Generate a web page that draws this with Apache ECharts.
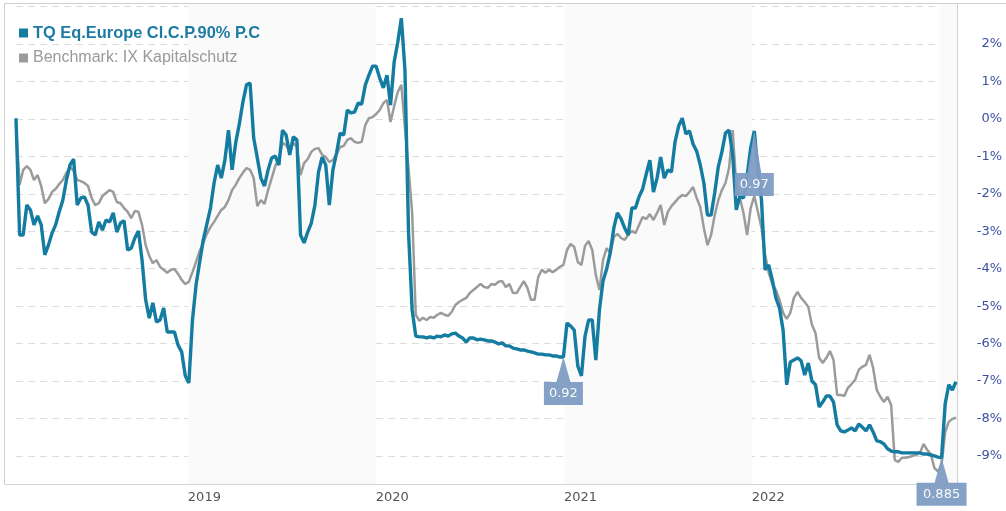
<!DOCTYPE html>
<html>
<head>
<meta charset="utf-8">
<script src="https://cdn.jsdelivr.net/npm/echarts@6/dist/echarts.min.js"></script>
<style>html,body{margin:0;padding:0;background:#fff}#c{width:1006px;height:511px}</style>
</head>
<body>
<div id="c"></div>
<script>
// weekly observations, first week starting 2018-02-01
const startYear = 2018, startMonth = 1, startDay = 1, stepDays = 7;
const seriesNames = ['TQ Eq.Europe Cl.C.P.90% P.C', 'Benchmark: IX Kapitalschutz'];
const tq = [
0.02,-3.10,-3.10,-2.30,-2.43,-2.83,-2.59,-2.83,-3.63,-3.37,-3.05,-2.83,-2.48,-2.17,-1.63,-1.23,-1.07,-2.30,-2.11,-2.08,
-2.30,-3.02,-3.10,-2.75,-2.97,-2.70,-2.75,-2.51,-3.02,-2.78,-2.72,-3.50,-3.45,-3.18,-2.99,-3.77,-4.83,-5.32,-4.91,-5.42,
-5.37,-5.05,-5.69,-5.69,-5.69,-6.04,-6.22,-6.86,-7.05,-5.37,-4.43,-3.82,-3.23,-2.81,-2.38,-1.71,-1.23,-1.58,-1.10,-0.30,
-1.36,-0.64,-0.14,0.45,0.91,0.96,-0.51,-1.04,-1.58,-1.79,-1.36,-1.04,-0.99,-1.23,-0.30,-0.43,-0.96,-0.48,-0.56,-3.10,
-3.31,-3.02,-2.78,-2.30,-1.42,-1.02,-1.23,-2.30,-1.36,-0.91,-0.38,-0.43,0.24,0.16,0.18,0.42,0.40,0.91,1.17,1.41,
1.41,1.09,0.83,1.17,0.37,1.52,2.05,2.69,1.31,-3.05,-5.10,-5.80,-5.82,-5.82,-5.85,-5.82,-5.85,-5.80,-5.82,-5.77,
-5.80,-5.74,-5.72,-5.80,-5.85,-5.96,-5.85,-5.85,-5.90,-5.88,-5.90,-5.93,-5.93,-5.96,-6.01,-5.98,-6.06,-6.06,-6.12,-6.14,
-6.17,-6.17,-6.20,-6.22,-6.25,-6.28,-6.28,-6.30,-6.30,-6.33,-6.33,-6.36,-6.36,-5.45,-5.53,-5.64,-6.60,-6.86,-5.80,-5.37,
-5.37,-6.44,-5.10,-4.33,-4.01,-3.58,-2.91,-2.51,-2.67,-2.91,-3.10,-2.38,-2.38,-2.08,-1.87,-1.47,-1.10,-1.95,-1.58,-1.02,
-1.58,-1.36,-1.42,-0.61,-0.19,0.02,-0.40,-0.32,-0.67,-0.86,-1.23,-1.71,-2.57,-2.57,-1.98,-1.28,-0.88,-0.38,-0.30,-0.96,
-2.43,-2.06,-2.11,-1.52,-0.78,-0.32,-1.36,-2.17,-4.03,-3.90,-4.30,-4.78,-5.05,-5.64,-7.10,-6.49,-6.44,-6.38,-6.46,-6.84,
-6.52,-7.00,-7.10,-7.69,-7.56,-7.40,-7.40,-7.56,-8.17,-8.33,-8.36,-8.31,-8.25,-8.33,-8.15,-8.23,-8.33,-8.17,-8.36,-8.60,
-8.62,-8.68,-8.81,-8.87,-8.89,-8.89,-8.92,-8.92,-8.92,-8.92,-8.92,-8.92,-8.95,-8.95,-8.97,-9.00,-9.03,-9.05,-7.61,-7.10,
-7.24,-7.02
];
const bench = [
-0.11,-1.76,-1.36,-1.26,-1.36,-1.63,-1.50,-1.79,-2.25,-2.14,-1.95,-1.87,-1.74,-1.63,-1.44,-1.28,-1.39,-1.63,-1.66,-1.71,
-1.79,-2.11,-2.30,-2.25,-2.06,-1.98,-1.90,-1.95,-2.22,-2.25,-2.38,-2.48,-2.65,-2.46,-2.48,-2.83,-3.37,-3.66,-3.85,-3.77,
-3.95,-4.03,-4.11,-4.03,-4.01,-4.14,-4.30,-4.41,-4.35,-4.09,-3.82,-3.53,-3.31,-3.07,-2.89,-2.75,-2.59,-2.43,-2.35,-2.17,
-1.90,-1.76,-1.58,-1.44,-1.31,-1.36,-1.58,-2.33,-2.17,-2.27,-1.90,-1.58,-1.26,-1.04,-0.64,-0.70,-0.88,-0.64,-0.75,-1.50,
-1.18,-1.07,-0.88,-0.80,-0.78,-0.96,-1.02,-1.15,-1.10,-0.94,-0.75,-0.72,-0.56,-0.51,-0.61,-0.64,-0.61,-0.16,0.02,0.05,
0.13,0.24,0.42,0.51,-0.08,0.34,0.72,0.91,-0.24,-1.31,-2.51,-5.23,-5.39,-5.31,-5.37,-5.29,-5.31,-5.23,-5.18,-5.23,
-5.26,-5.15,-4.97,-4.89,-4.83,-4.78,-4.65,-4.57,-4.49,-4.41,-4.49,-4.51,-4.41,-4.43,-4.35,-4.33,-4.49,-4.41,-4.65,-4.65,
-4.49,-4.33,-4.51,-4.83,-4.83,-4.22,-4.03,-4.11,-4.03,-4.09,-4.03,-3.95,-3.90,-3.50,-3.34,-3.42,-3.82,-3.90,-3.39,-3.26,
-3.50,-4.17,-4.57,-3.77,-3.45,-3.58,-3.15,-3.07,-3.18,-3.23,-3.10,-2.99,-3.05,-2.83,-2.62,-2.67,-2.54,-2.70,-2.51,-2.30,
-2.83,-2.48,-2.33,-2.22,-2.11,-2.03,-2.06,-1.95,-1.82,-2.11,-2.35,-2.91,-3.37,-3.10,-2.57,-2.17,-1.90,-1.71,-1.31,-0.30,
-1.82,-2.11,-2.51,-3.10,-2.38,-2.06,-2.48,-2.91,-3.63,-4.11,-4.41,-4.57,-4.83,-5.18,-5.34,-5.18,-4.78,-4.62,-4.78,-4.89,
-5.02,-5.50,-5.72,-6.38,-6.52,-6.38,-6.20,-6.44,-7.37,-7.37,-7.40,-7.18,-7.08,-6.97,-6.70,-6.62,-6.57,-6.30,-6.65,-7.24,
-7.42,-7.56,-7.42,-7.64,-9.11,-9.16,-9.05,-9.05,-9.03,-9.00,-8.97,-8.92,-8.68,-8.84,-8.95,-9.32,-9.42,-9.24,-8.36,-8.09,
-8.01,-7.98
];
const yearLabels = ['2019', '2020', '2021', '2022'];
const shadedYears = ['2019', '2021', '2023'];
const yTicks = [-9, -8, -7, -6, -5, -4, -3, -2, -1, 0, 1, 2, 3];
const yLabels = [-9, -8, -7, -6, -5, -4, -3, -2, -1, 0, 1, 2];
const flagIndex = [152, 205, 257];
const flagText = ['0.92', '0.97', '0.885'];

const dates = tq.map((_, i) => new Date(startYear, startMonth, startDay + i * stepDays).getTime());
const lastDate = new Date(startYear, startMonth, startDay + (tq.length - 1) * stepDays + 2).getTime();
const yearStart = y => new Date(+y, 0, 1).getTime();

const blue = '#147ba1', grey = '#9b9b9b', flagCol = '#7e9cc3';

function flag(i, text, tri, w) {
  const h = 23, tw = 7;
  const c = w / 2;
  const path = 'path://M' + c + ' 0L' + (c + tw) + ' ' + tri + 'L' + w + ' ' + tri + 'L' + w + ' ' + (tri + h) +
    'L0 ' + (tri + h) + 'L0 ' + tri + 'L' + (c - tw) + ' ' + tri + 'Z';
  return {
    coord: [dates[i], tq[i]], value: text, symbol: path, symbolSize: [w, tri + h],
    symbolOffset: [0, (tri + h) / 2], symbolKeepAspect: false,
    itemStyle: {color: flagCol, opacity: 0.95},
    label: {show: true, position: 'inside', offset: [0, tri / 2], formatter: text, color: '#fff',
      fontFamily: 'DejaVu Sans', fontSize: 13}
  };
}

const chart = echarts.init(document.getElementById('c'), null, {renderer: 'canvas'});
chart.setOption({
  animation: false,
  backgroundColor: '#fff',
  grid: {left: 16, right: 49, top: 4, bottom: 27},
  graphic: [
    {type: 'line', shape: {x1: 4.5, y1: 4, x2: 4.5, y2: 484}, style: {stroke: '#d0d0d0', lineWidth: 1}, silent: true},
    {type: 'line', shape: {x1: 4, y1: 3.5, x2: 1006, y2: 3.5}, style: {stroke: '#d0d0d0', lineWidth: 1}, silent: true},
    {type: 'line', shape: {x1: 4, y1: 484.5, x2: 16, y2: 484.5}, style: {stroke: '#d5d5d5', lineWidth: 1}, silent: true}
  ],
  legend: {
    orient: 'vertical', left: 14, top: 20, itemWidth: 9, itemHeight: 9, icon: 'rect', itemGap: 9,
    data: [
      {name: seriesNames[0], textStyle: {color: '#1b7ba3', fontWeight: 'bold', fontSize: 16.4, fontFamily: 'Liberation Sans'}},
      {name: seriesNames[1], textStyle: {color: '#999', fontSize: 16, fontFamily: 'Liberation Sans'}}
    ]
  },
  xAxis: {
    type: 'value', min: dates[0], max: lastDate,
    axisLine: {show: true, onZero: false, lineStyle: {color: '#d5d5d5'}},
    axisTick: {show: false},
    splitLine: {show: false},
    axisLabel: {
      customValues: yearLabels.map(yearStart),
      formatter: v => String(new Date(v).getFullYear()),
      align: 'left', margin: 7, color: '#555', fontFamily: 'DejaVu Sans', fontSize: 13
    }
  },
  yAxis: {
    type: 'value', position: 'right', min: -9.75, max: 3.07,
    axisLine: {show: true, lineStyle: {color: '#d0d0d0'}},
    axisTick: {show: false, customValues: yTicks},
    splitLine: {show: true, lineStyle: {color: '#dcdcdc', type: [7, 5], width: 1}},
    axisLabel: {
      customValues: yLabels, formatter: v => v + '%', align: 'right', margin: 45,
      color: '#3d50a0', fontFamily: 'DejaVu Sans', fontSize: 13
    }
  },
  series: [
    {
      name: seriesNames[1], type: 'line', showSymbol: false, symbol: 'none',
      data: bench.map((v, i) => [dates[i], v]),
      lineStyle: {color: grey, width: 2.5}, itemStyle: {color: grey},
      markArea: {
        silent: true, itemStyle: {color: '#fafafa'},
        data: shadedYears.map(y => [{xAxis: yearStart(y)}, {xAxis: Math.min(yearStart(+y + 1), lastDate)}])
      },
      z: 2
    },
    {
      name: seriesNames[0], type: 'line', showSymbol: false, symbol: 'none',
      data: tq.map((v, i) => [dates[i], v]),
      lineStyle: {color: blue, width: 3.4}, itemStyle: {color: blue},
      markPoint: {
        silent: true,
        data: [flag(flagIndex[0], flagText[0], 25, 39), flag(flagIndex[1], flagText[1], 42, 39), flag(flagIndex[2], flagText[2], 25, 50)]
      },
      z: 3
    }
  ]
});
</script>
</body>
</html>
